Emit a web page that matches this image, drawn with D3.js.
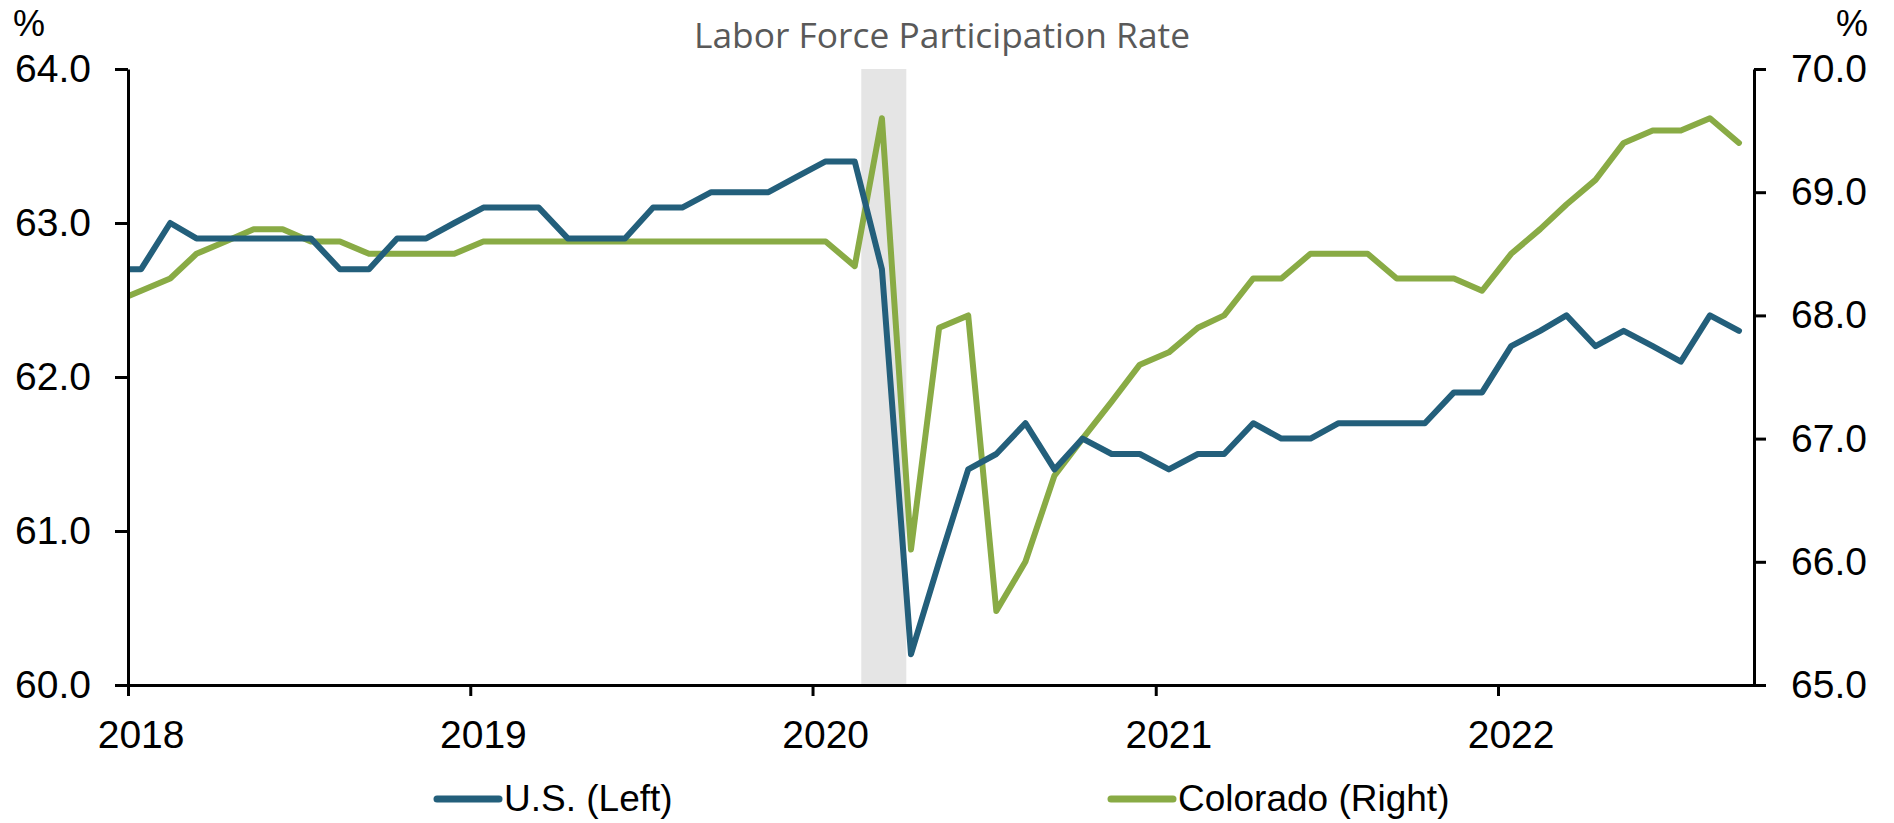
<!DOCTYPE html>
<html>
<head>
<meta charset="utf-8">
<script src="https://cdn.jsdelivr.net/npm/d3@7"></script>
<style>
  body { margin: 0; background: #fff; }
  svg { display: block; }
</style>
</head>
<body>
<div id="chartDiv"></div>
<script>
let w = 1894
let h = 823
let left = 128
let right = 1754
let top_ = 69
let bottom = 685

// monthly data, Dec 2017 .. Sep 2022
let START_YEAR = 2017
let START_MONTH = 11
let US_RATE = [
  62.7,
  62.7, 63.0, 62.9, 62.9, 62.9, 62.9, 62.9, 62.7, 62.7, 62.9, 62.9, 63.0,
  63.1, 63.1, 63.1, 62.9, 62.9, 62.9, 63.1, 63.1, 63.2, 63.2, 63.2, 63.3,
  63.4, 63.4, 62.7, 60.2, 60.8, 61.4, 61.5, 61.7, 61.4, 61.6, 61.5, 61.5,
  61.4, 61.5, 61.5, 61.7, 61.6, 61.6, 61.7, 61.7, 61.7, 61.7, 61.9, 61.9,
  62.2, 62.3, 62.4, 62.2, 62.3, 62.2, 62.1, 62.4, 62.3
]
let CO_RATE = [
  68.1,
  68.2, 68.3, 68.5, 68.6, 68.7, 68.7, 68.6, 68.6, 68.5, 68.5, 68.5, 68.5,
  68.6, 68.6, 68.6, 68.6, 68.6, 68.6, 68.6, 68.6, 68.6, 68.6, 68.6, 68.6,
  68.6, 68.4, 69.6, 66.1, 67.9, 68.0, 65.6, 66.0, 66.7, 67.0, 67.3, 67.6,
  67.7, 67.9, 68.0, 68.3, 68.3, 68.5, 68.5, 68.5, 68.3, 68.3, 68.3, 68.2,
  68.5, 68.7, 68.9, 69.1, 69.4, 69.5, 69.5, 69.6, 69.4
]
let LEFT_TICKS = [60, 61, 62, 63, 64]
let RIGHT_TICKS = [65, 66, 67, 68, 69, 70]
let YEARS = [2018, 2019, 2020, 2021, 2022]
let SERIES_NAMES = ["U.S. (Left)", "Colorado (Right)"]
let COLORS = ["#235f7b", "#89ab45"]
let RECESSION = [new Date(2020, 1, 22), new Date(2020, 3, 10)]
let TITLE = "Labor Force Participation Rate"

let FONT = "'Liberation Sans', Arial, sans-serif"

let svg = d3.select("#chartDiv")
  .append("svg")
  .attr("width", w)
  .attr("height", h)

let x = d3.scaleTime()
  .domain([new Date(2018, 0, 1), new Date(2022, 9, 1)])
  .range([left, right])

let yL = d3.scaleLinear().domain([60, 64]).range([bottom, top_])
let yR = d3.scaleLinear().domain([65, 70]).range([bottom, top_])

let dateOf = i => new Date(START_YEAR, START_MONTH + i, 15)

let usData = US_RATE.map((v, i) => ({ date: dateOf(i), value: v }))
let coData = CO_RATE.map((v, i) => ({ date: dateOf(i), value: v }))

svg.append("defs").append("clipPath")
  .attr("id", "plotClip")
  .append("rect")
  .attr("x", left)
  .attr("y", 0)
  .attr("width", right - left)
  .attr("height", h)

// recession shading
svg.append("rect")
  .attr("x", x(RECESSION[0]))
  .attr("y", top_)
  .attr("width", x(RECESSION[1]) - x(RECESSION[0]))
  .attr("height", bottom - top_)
  .attr("fill", "#e5e5e5")

// Title
svg.append("text")
  .attr("x", 942)
  .attr("y", 48)
  .attr("text-anchor", "middle")
  .attr("font-family", "'Open Sans', Lato, sans-serif")
  .attr("font-size", 34)
  .attr("fill", "#595959")
  .attr("textLength", 496)
  .attr("lengthAdjust", "spacingAndGlyphs")
  .text(TITLE)

// Unit labels
svg.append("text")
  .attr("x", 13).attr("y", 36)
  .attr("font-family", FONT).attr("font-size", 36)
  .text("%")
svg.append("text")
  .attr("x", 1868).attr("y", 36)
  .attr("text-anchor", "end")
  .attr("font-family", FONT).attr("font-size", 36)
  .text("%")

// Lines
let lineL = d3.line().x(d => x(d.date)).y(d => yL(d.value))
let lineR = d3.line().x(d => x(d.date)).y(d => yR(d.value))

let lines = svg.append("g").attr("clip-path", "url(#plotClip)")

lines.append("path")
  .datum(coData)
  .attr("d", lineR)
  .attr("fill", "none")
  .attr("stroke", COLORS[1])
  .attr("stroke-width", 6)
  .attr("stroke-linejoin", "round")
  .attr("stroke-linecap", "round")

lines.append("path")
  .datum(usData)
  .attr("d", lineL)
  .attr("fill", "none")
  .attr("stroke", COLORS[0])
  .attr("stroke-width", 6)
  .attr("stroke-linejoin", "round")
  .attr("stroke-linecap", "round")

// Axes
let styleAxis = g => {
  g.attr("font-family", FONT).attr("font-size", 39)
  g.selectAll("path, line").attr("stroke", "#000").attr("stroke-width", 3)
  g.selectAll("text").attr("fill", "#000")
}

svg.append("g")
  .attr("transform", "translate(" + left + ",0)")
  .call(d3.axisLeft(yL).tickValues(LEFT_TICKS).tickFormat(d3.format(".1f"))
    .tickSize(13).tickSizeOuter(0).tickPadding(24))
  .call(styleAxis)

svg.append("g")
  .attr("transform", "translate(" + right + ",0)")
  .call(d3.axisRight(yR).tickValues(RIGHT_TICKS).tickFormat(d3.format(".1f"))
    .tickSize(12).tickSizeOuter(0).tickPadding(25))
  .call(styleAxis)

svg.append("g")
  .attr("transform", "translate(0," + bottom + ")")
  .call(d3.axisBottom(x).tickValues(YEARS.map(y => new Date(y, 0, 1)))
    .tickFormat("").tickSize(11).tickSizeOuter(0))
  .call(styleAxis)

// year labels centred on mid-January
svg.append("g")
  .selectAll("text")
  .data(YEARS)
  .enter()
  .append("text")
  .attr("x", d => x(new Date(d, 0, 15)))
  .attr("y", 748)
  .attr("text-anchor", "middle")
  .attr("font-family", FONT)
  .attr("font-size", 39)
  .text(d => d)

// Legend
let LEGEND_X = [437, 1111]
let legend = svg.append("g")
  .selectAll("g")
  .data(SERIES_NAMES)
  .enter()
  .append("g")
  .attr("transform", (d, i) => "translate(" + LEGEND_X[i] + ",799)")

legend.append("line")
  .attr("x1", 0).attr("x2", 62)
  .attr("stroke", (d, i) => COLORS[i])
  .attr("stroke-width", 7)
  .attr("stroke-linecap", "round")

legend.append("text")
  .attr("x", 67)
  .attr("y", 12)
  .attr("font-family", FONT)
  .attr("font-size", 37)
  .text(d => d)
</script>
</body>
</html>
